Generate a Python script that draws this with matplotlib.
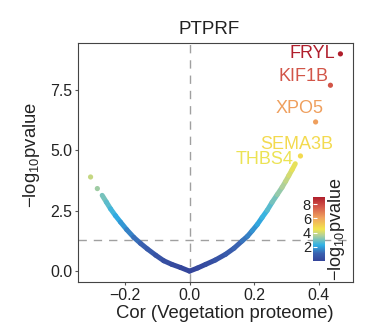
import matplotlib
matplotlib.use("Agg")
import matplotlib.pyplot as plt
import numpy as np
from matplotlib.collections import LineCollection
from matplotlib.colors import LinearSegmentedColormap, Normalize

plt.rcParams['font.family'] = ['Liberation Sans', 'DejaVu Sans']
plt.rcParams['mathtext.fontset'] = 'custom'
plt.rcParams['mathtext.rm'] = 'Liberation Sans'

# --- data ---
# curve of all proteins (correlation vs -log10 p), left and right branches
left_cor = [-0.271, -0.258, -0.245, -0.230, -0.214, -0.195, -0.173, -0.152,
            -0.131, -0.105, -0.080, -0.055, -0.028, 0.0]
left_logp = [3.14, 2.86, 2.58, 2.30, 2.03, 1.72, 1.40, 1.15,
             0.92, 0.66, 0.43, 0.28, 0.15, 0.0]
right_cor = [0.0, 0.025, 0.05, 0.08, 0.112, 0.138, 0.163, 0.18, 0.194, 0.21,
             0.225, 0.241, 0.256, 0.272, 0.287, 0.298, 0.308, 0.318, 0.328]
right_logp = [0.0, 0.13, 0.28, 0.46, 0.70, 0.95, 1.25, 1.45, 1.67, 1.93,
              2.22, 2.52, 2.85, 3.17, 3.47, 3.72, 3.96, 4.20, 4.45]

# isolated points
pt_cor = [-0.307, -0.286, 0.344, 0.391, 0.437, 0.468]
pt_logp = [3.90, 3.42, 4.77, 6.18, 7.70, 9.00]

# labelled genes
genes = ['FRYL', 'KIF1B', 'XPO5', 'SEMA3B', 'THBS4']
gene_logp = [9.00, 7.70, 6.18, 4.77, 4.40]
label_x = [0.452, 0.430, 0.415, 0.446, 0.322]
label_y = [9.00, 8.05, 6.75, 5.25, 4.63]

p_cut = 1.30  # -log10(0.05)

cmap = LinearSegmentedColormap.from_list('vp', [
    (0.00, '#34449a'), (0.12, '#3a62b0'), (0.25, '#2fb1e6'),
    (0.40, '#b0d09a'), (0.50, '#f3e54c'), (0.68, '#f0a25e'),
    (0.85, '#d4584a'), (1.00, '#b01e2c')])
norm = Normalize(vmin=0, vmax=9)

fig = plt.figure(figsize=(3.69, 3.27), dpi=100)
ax = fig.add_axes([78/369, 45/327, 275/369, 239/327])

ax.axvline(0, color='#a0a0a0', lw=1, ls=(0, (6, 5)), zorder=1)
ax.axhline(p_cut, color='#a0a0a0', lw=1, ls=(0, (6, 5)), zorder=1)

for xs, ys in [(left_cor, left_logp), (right_cor, right_logp)]:
    pts = np.column_stack([xs, ys])
    segs = np.stack([pts[:-1], pts[1:]], axis=1)
    mids = (np.array(ys[:-1]) + np.array(ys[1:])) / 2
    lc = LineCollection(segs, colors=cmap(norm(mids)), linewidths=3.6,
                        capstyle='round', joinstyle='round', zorder=2)
    ax.add_collection(lc)

ax.scatter(pt_cor, pt_logp, c=pt_logp, cmap=cmap, norm=norm, s=14,
           linewidths=0, zorder=3)

for g, v, tx, ty in zip(genes, gene_logp, label_x, label_y):
    ax.text(tx, ty, g, color=cmap(norm(v)), fontsize=13, ha='right',
            va='center', zorder=4)

ax.set_xlim(-0.346, 0.507)
ax.set_ylim(-0.45, 9.45)
ax.set_xticks([-0.2, 0.0, 0.2, 0.4])
ax.set_xticklabels(['\u22120.2', '0.0', '0.2', '0.4'])
ax.set_yticks([0, 2.5, 5.0, 7.5])
ax.set_yticklabels(['0.0', '2.5', '5.0', '7.5'])
ax.tick_params(labelsize=11.4, length=2.5, width=0.8, pad=1.5,
               colors='#555555', labelcolor='#222222')
for sp in ax.spines.values():
    sp.set_color('#444444')
    sp.set_linewidth(0.8)

fig.text(209/369, 1 - 30/327, 'PTPRF', fontsize=13.5, ha='center',
         va='center', color='#222222')
fig.text(225/369, 1 - 313/327, 'Cor (Vegetation proteome)', fontsize=13.3,
         ha='center', va='center', color='#222222')
fig.text(32/369, 1 - 155/327, '\u2212log$_{10}$pvalue', fontsize=13.3,
         rotation=90, ha='center', va='center', color='#222222')

# colour bar inside the panel
cax = fig.add_axes([313/369, 1 - 261/327, 12/369, 64/327])
sm = plt.cm.ScalarMappable(cmap=cmap, norm=norm)
cb = fig.colorbar(sm, cax=cax, ticks=[2, 4, 6, 8])
cb.outline.set_visible(False)
cax.yaxis.set_ticks_position('left')
cax.yaxis.set_label_position('right')
cax.tick_params(direction='in', length=3, width=0.8, color='white',
                labelsize=10.5, pad=1.5, labelcolor='#222222')
cb.set_label('\u2212log$_{10}$pvalue', fontsize=13, labelpad=1,
             color='#222222')

fig.savefig('out.png', dpi=100)
